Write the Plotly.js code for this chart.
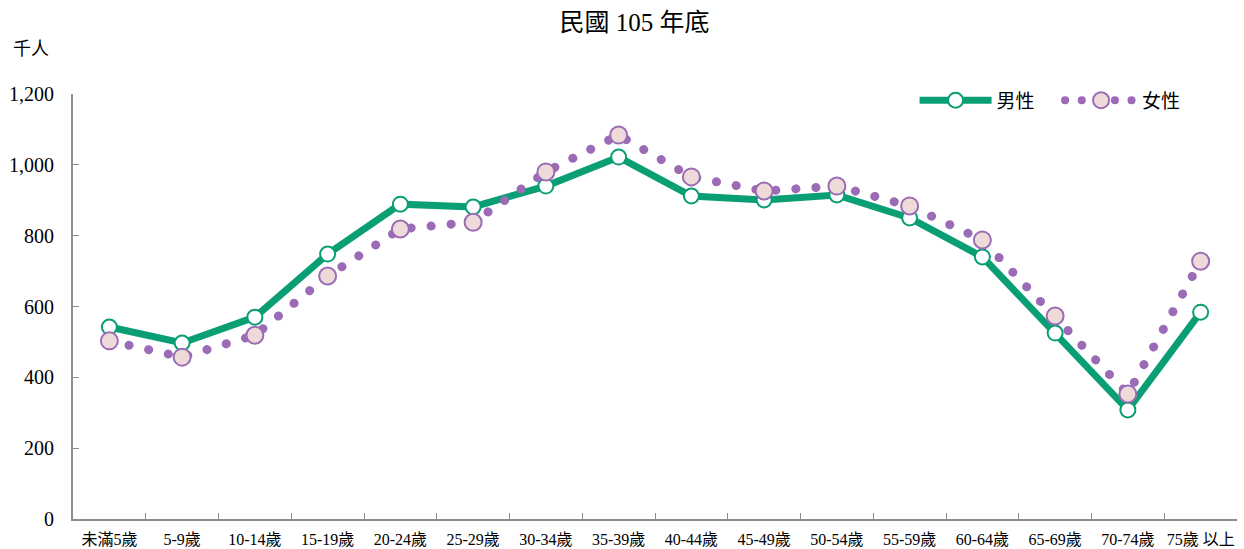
<!DOCTYPE html>
<html><head><meta charset="utf-8">
<script src="https://cdn.plot.ly/plotly-3.0.1.min.js"></script>
<style>
html,body{margin:0;padding:0;background:#fff;}
#chart{width:1244px;height:549px;}
.female-dots .js-line{stroke-linecap:round !important;}
.female-legend .js-line{stroke-linecap:round !important; stroke-dasharray:0.1px,16.5px !important; stroke-width:8px !important;}
</style>
</head><body>
<div id="chart"></div>
<script>
const categories = ["未滿5歲","5-9歲","10-14歲","15-19歲","20-24歲","25-29歲","30-34歲","35-39歲","40-44歲","45-49歲","50-54歲","55-59歲","60-64歲","65-69歲","70-74歲","75歲 以上"];
const male   = [542, 497, 570, 748, 889, 881, 940, 1022, 912, 901, 915, 850, 740, 525, 308, 584];
const female = [503, 457, 519, 686, 819, 838, 980, 1084, 966, 926, 940, 884, 788, 573, 353, 728];
const yTicks = [0, 200, 400, 600, 800, 1000, 1200];
const yTickText = ["0","200","400","600","800","1,000","1,200"];

const green = "#0a9e74";
const purple = "#9b6cb5";
const pink = "#eedad8";
const serif = "'Liberation Serif', 'Noto Sans CJK TC', serif";
const cjk = "'Noto Sans CJK TC', sans-serif";

const traces = [
  {
    x: categories, y: male, name: "男性", type: "scatter", mode: "lines+markers",
    line: {color: green, width: 7},
    marker: {size: 15, color: "#ffffff", line: {color: green, width: 2}},
    cliponaxis: false, legend: "legend"
  },
  {
    x: categories, y: female, name: "女性", type: "scatter", mode: "lines+markers",
    line: {color: purple, width: 9, dash: "0.1px,20px"},
    marker: {size: 17, color: pink, line: {color: purple, width: 2}},
    cliponaxis: false, legend: "legend2"
  }
];

const legendCommon = {
  orientation: "h", xanchor: "left", y: 0.985, yanchor: "middle",
  font: {family: cjk, size: 19, color: "#000"},
  bgcolor: "rgba(0,0,0,0)", itemwidth: 72
};

const layout = {
  width: 1244, height: 549,
  margin: {l: 73, r: 7, t: 94, b: 30},
  paper_bgcolor: "#fff", plot_bgcolor: "#fff",
  font: {family: serif, color: "#000", size: 16},
  title: {text: "民國 105 年底", x: 0.51, xanchor: "center", y: 0.96, yanchor: "middle",
          font: {family: serif, size: 25, color: "#000"}},
  showlegend: true,
  legend: Object.assign({}, legendCommon, {x: 0.723}),
  legend2: Object.assign({}, legendCommon, {x: 0.848}),
  xaxis: {
    type: "category", range: [-0.5, 15.5], showgrid: false, zeroline: false,
    showline: true, linecolor: "#8c8c8c", linewidth: 2,
    ticks: "inside", tickson: "boundaries", ticklen: 6, tickcolor: "#8c8c8c", tickwidth: 1,
    ticklabelstandoff: 5, tickangle: 0, automargin: false,
    tickfont: {family: serif, size: 16, color: "#000"}, fixedrange: true
  },
  yaxis: {
    range: [0, 1200], showgrid: false, zeroline: false,
    showline: true, linecolor: "#8c8c8c", linewidth: 2,
    ticks: "inside", ticklen: 6, tickcolor: "#8c8c8c", tickwidth: 1,
    tickvals: yTicks, ticktext: yTickText, ticklabelstandoff: 13,
    tickfont: {family: serif, size: 20, color: "#000"}, fixedrange: true
  },
  annotations: [{
    text: "千人", xref: "paper", yref: "paper", x: -0.036, y: 1.11,
    xanchor: "center", yanchor: "middle", showarrow: false,
    font: {family: cjk, size: 18, color: "#000"}
  }]
};

Plotly.newPlot("chart", traces, layout, {displayModeBar: false, staticPlot: true}).then(() => {
  const trs = document.querySelectorAll(".scatterlayer .trace");
  if (trs[1]) trs[1].classList.add("female-dots");
  document.querySelectorAll(".legend2 .traces, [class*='legend2'] .traces").forEach(t => t.classList.add("female-legend"));
});
</script>
</body></html>
